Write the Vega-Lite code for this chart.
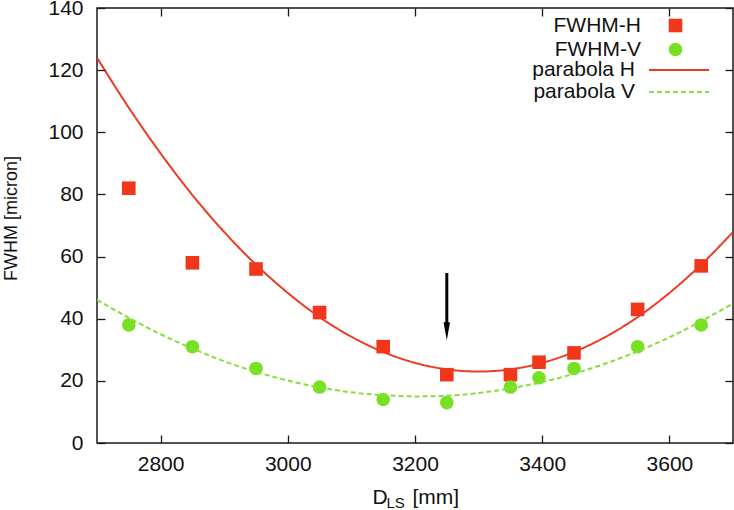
{
  "$schema": "https://vega.github.io/schema/vega-lite/v6.json",
  "width": 636,
  "height": 435,
  "autosize": {"type": "none"},
  "padding": {"left": 97, "top": 8, "right": 1, "bottom": 67},
  "background": "white",
  "config": {
    "view": {"stroke": "#1a1a1a", "strokeWidth": 1.5},
    "font": "Liberation Sans",
    "axis": {
      "grid": false,
      "domain": false,
      "labelFont": "Liberation Sans",
      "labelFontSize": 21,
      "labelColor": "#111",
      "titleFont": "Liberation Sans",
      "titleFontWeight": "normal",
      "titleColor": "#111"
    },
    "legend": {
      "labelFont": "Liberation Sans",
      "labelFontSize": 21,
      "labelColor": "#111",
      "padding": 0
    }
  },
  "datasets": {
    "pts": [
      {"d": 2750, "fwhm": 82, "series": "FWHM-H"},
      {"d": 2850, "fwhm": 58, "series": "FWHM-H"},
      {"d": 2950, "fwhm": 56, "series": "FWHM-H"},
      {"d": 3050, "fwhm": 42, "series": "FWHM-H"},
      {"d": 3150, "fwhm": 31, "series": "FWHM-H"},
      {"d": 3250, "fwhm": 22, "series": "FWHM-H"},
      {"d": 3350, "fwhm": 22, "series": "FWHM-H"},
      {"d": 3395, "fwhm": 26, "series": "FWHM-H"},
      {"d": 3450, "fwhm": 29, "series": "FWHM-H"},
      {"d": 3550, "fwhm": 43, "series": "FWHM-H"},
      {"d": 3650, "fwhm": 57, "series": "FWHM-H"},
      {"d": 2750, "fwhm": 38, "series": "FWHM-V"},
      {"d": 2850, "fwhm": 31, "series": "FWHM-V"},
      {"d": 2950, "fwhm": 24, "series": "FWHM-V"},
      {"d": 3050, "fwhm": 18, "series": "FWHM-V"},
      {"d": 3150, "fwhm": 14, "series": "FWHM-V"},
      {"d": 3250, "fwhm": 13, "series": "FWHM-V"},
      {"d": 3350, "fwhm": 18, "series": "FWHM-V"},
      {"d": 3395, "fwhm": 21, "series": "FWHM-V"},
      {"d": 3450, "fwhm": 24, "series": "FWHM-V"},
      {"d": 3550, "fwhm": 31, "series": "FWHM-V"},
      {"d": 3650, "fwhm": 38, "series": "FWHM-V"}
    ],
    "curves": [
      {"d": 2700, "fwhm": 124.0, "curve": "parabola H"},
      {"d": 2750, "fwhm": 107.9, "curve": "parabola H"},
      {"d": 2800, "fwhm": 93.2, "curve": "parabola H"},
      {"d": 2850, "fwhm": 79.8, "curve": "parabola H"},
      {"d": 2900, "fwhm": 67.9, "curve": "parabola H"},
      {"d": 2950, "fwhm": 57.4, "curve": "parabola H"},
      {"d": 3000, "fwhm": 48.3, "curve": "parabola H"},
      {"d": 3050, "fwhm": 40.5, "curve": "parabola H"},
      {"d": 3100, "fwhm": 34.2, "curve": "parabola H"},
      {"d": 3150, "fwhm": 29.3, "curve": "parabola H"},
      {"d": 3200, "fwhm": 25.8, "curve": "parabola H"},
      {"d": 3250, "fwhm": 23.7, "curve": "parabola H"},
      {"d": 3300, "fwhm": 23.0, "curve": "parabola H"},
      {"d": 3350, "fwhm": 23.7, "curve": "parabola H"},
      {"d": 3400, "fwhm": 25.8, "curve": "parabola H"},
      {"d": 3450, "fwhm": 29.3, "curve": "parabola H"},
      {"d": 3500, "fwhm": 34.2, "curve": "parabola H"},
      {"d": 3550, "fwhm": 40.5, "curve": "parabola H"},
      {"d": 3600, "fwhm": 48.3, "curve": "parabola H"},
      {"d": 3650, "fwhm": 57.4, "curve": "parabola H"},
      {"d": 3700, "fwhm": 67.9, "curve": "parabola H"},
      {"d": 2700, "fwhm": 46.1, "curve": "parabola V"},
      {"d": 2750, "fwhm": 40.3, "curve": "parabola V"},
      {"d": 2800, "fwhm": 35.0, "curve": "parabola V"},
      {"d": 2850, "fwhm": 30.4, "curve": "parabola V"},
      {"d": 2900, "fwhm": 26.3, "curve": "parabola V"},
      {"d": 2950, "fwhm": 22.9, "curve": "parabola V"},
      {"d": 3000, "fwhm": 20.1, "curve": "parabola V"},
      {"d": 3050, "fwhm": 17.9, "curve": "parabola V"},
      {"d": 3100, "fwhm": 16.3, "curve": "parabola V"},
      {"d": 3150, "fwhm": 15.4, "curve": "parabola V"},
      {"d": 3200, "fwhm": 15.0, "curve": "parabola V"},
      {"d": 3250, "fwhm": 15.2, "curve": "parabola V"},
      {"d": 3300, "fwhm": 16.1, "curve": "parabola V"},
      {"d": 3350, "fwhm": 17.6, "curve": "parabola V"},
      {"d": 3400, "fwhm": 19.6, "curve": "parabola V"},
      {"d": 3450, "fwhm": 22.3, "curve": "parabola V"},
      {"d": 3500, "fwhm": 25.6, "curve": "parabola V"},
      {"d": 3550, "fwhm": 29.5, "curve": "parabola V"},
      {"d": 3600, "fwhm": 34.0, "curve": "parabola V"},
      {"d": 3650, "fwhm": 39.2, "curve": "parabola V"},
      {"d": 3700, "fwhm": 44.9, "curve": "parabola V"}
    ],
    "arrow": [
      {"d": 3250, "top": 54.7, "bottom": 38.5, "head": 36.0}
    ]
  },
  "layer": [
    {
      "data": {"name": "pts"},
      "mark": {"type": "point", "filled": true, "opacity": 1, "size": 185},
      "encoding": {
        "x": {
          "field": "d", "type": "quantitative",
          "scale": {"domain": [2700, 3700], "nice": false, "zero": false},
          "axis": {
            "orient": "bottom",
            "offset": -8,
            "zindex": 2,
            "ticks": true,
            "tickSize": 8,
            "tickColor": "#1a1a1a",
            "tickWidth": 1.3,
            "tickOpacity": 1,
            "values": [2800, 3000, 3200, 3400, 3600],
            "format": "d",
            "labelPadding": 10,
            "title": "D",
            "titleFontSize": 21,
            "titleAlign": "left",
            "titleBaseline": "alphabetic",
            "titleX": 275,
            "titleY": 68
          }
        },
        "y": {
          "field": "fwhm", "type": "quantitative",
          "scale": {"domain": [0, 140], "nice": false},
          "axis": {
            "orient": "left",
            "offset": -8,
            "zindex": 2,
            "ticks": true,
            "tickSize": 8,
            "tickColor": "#1a1a1a",
            "tickWidth": 1.3,
            "tickOpacity": 1,
            "values": [0, 20, 40, 60, 80, 100, 120, 140],
            "format": "d",
            "labelPadding": 14,
            "title": "FWHM [micron]",
            "titleFontSize": 18,
            "titleAngle": -90,
            "titleAlign": "center",
            "titleBaseline": "middle",
            "titleX": -94,
            "titleY": 210
          }
        },
        "color": {
          "field": "series", "type": "nominal",
          "scale": {"domain": ["FWHM-H", "FWHM-V"], "range": ["#f2361c", "#78e022"]},
          "legend": {
            "title": null,
            "orient": "none",
            "legendX": 568,
            "legendY": 7,
            "labelAlign": "right",
            "labelOffset": -45,
            "symbolSize": 185,
            "symbolStrokeWidth": 0,
            "rowPadding": 2
          }
        },
        "shape": {
          "field": "series", "type": "nominal",
          "scale": {"domain": ["FWHM-H", "FWHM-V"], "range": ["square", "circle"]},
          "legend": {
            "title": null,
            "orient": "none",
            "legendX": 568,
            "legendY": 7,
            "labelAlign": "right",
            "labelOffset": -45,
            "symbolSize": 185,
            "symbolStrokeWidth": 0,
            "rowPadding": 2
          }
        }
      }
    },
    {
      "data": {"name": "curves"},
      "mark": {"type": "line", "strokeWidth": 2, "clip": true, "interpolate": "monotone"},
      "encoding": {
        "x": {
          "field": "d", "type": "quantitative",
          "axis": {
            "orient": "top",
            "offset": -8,
            "zindex": 2,
            "ticks": true,
            "tickSize": 8,
            "tickColor": "#1a1a1a",
            "tickWidth": 1.3,
            "tickOpacity": 1,
            "values": [2800, 3000, 3200, 3400, 3600],
            "labels": false,
            "title": null
          }
        },
        "y": {
          "field": "fwhm", "type": "quantitative",
          "axis": {
            "orient": "right",
            "offset": -8,
            "zindex": 2,
            "ticks": true,
            "tickSize": 8,
            "tickColor": "#1a1a1a",
            "tickWidth": 1.3,
            "tickOpacity": 1,
            "values": [0, 20, 40, 60, 80, 100, 120, 140],
            "labels": false,
            "title": null
          }
        },
        "color": {
          "field": "curve", "type": "nominal",
          "scale": {"domain": ["parabola H", "parabola V"], "range": ["#ee3a22", "#84e03a"]},
          "legend": {
            "title": null,
            "orient": "none",
            "legendX": 571,
            "legendY": 51,
            "labelAlign": "right",
            "labelOffset": -55,
            "symbolType": "M-3,0L3,0",
            "symbolSize": 400,
            "symbolStrokeWidth": 2,
            "rowPadding": 1
          }
        },
        "strokeDash": {
          "field": "curve", "type": "nominal",
          "scale": {"domain": ["parabola H", "parabola V"], "range": [[1, 0], [5, 3]]},
          "legend": {
            "title": null,
            "orient": "none",
            "legendX": 571,
            "legendY": 51,
            "labelAlign": "right",
            "labelOffset": -55,
            "symbolType": "M-3,0L3,0",
            "symbolSize": 400,
            "symbolStrokeWidth": 2,
            "rowPadding": 1
          }
        }
      }
    },
    {
      "data": {"name": "arrow"},
      "mark": {"type": "rule", "color": "#000", "strokeWidth": 3},
      "encoding": {
        "x": {
          "field": "d", "type": "quantitative",
          "axis": {
            "orient": "bottom",
            "labels": false,
            "ticks": false,
            "domain": false,
            "title": "LS",
            "titleFontSize": 15,
            "titleAlign": "left",
            "titleBaseline": "alphabetic",
            "titleX": 289,
            "titleY": 64
          }
        },
        "y": {"field": "top", "type": "quantitative", "axis": null},
        "y2": {"field": "bottom"}
      }
    },
    {
      "data": {"name": "arrow"},
      "mark": {"type": "point", "filled": true, "opacity": 1, "color": "#000", "shape": "M-0.36,-1L0.36,-1L0,1Z", "size": 324},
      "encoding": {
        "x": {
          "field": "d", "type": "quantitative",
          "axis": {
            "orient": "bottom",
            "labels": false,
            "ticks": false,
            "domain": false,
            "title": "[mm]",
            "titleFontSize": 21,
            "titleAlign": "left",
            "titleBaseline": "alphabetic",
            "titleX": 315,
            "titleY": 60
          }
        },
        "y": {"field": "head", "type": "quantitative", "axis": null}
      }
    }
  ],
  "resolve": {
    "scale": {"color": "independent", "shape": "independent", "strokeDash": "independent"},
    "axis": {"x": "independent", "y": "independent"},
    "legend": {"color": "independent", "shape": "independent", "strokeDash": "independent"}
  }
}
